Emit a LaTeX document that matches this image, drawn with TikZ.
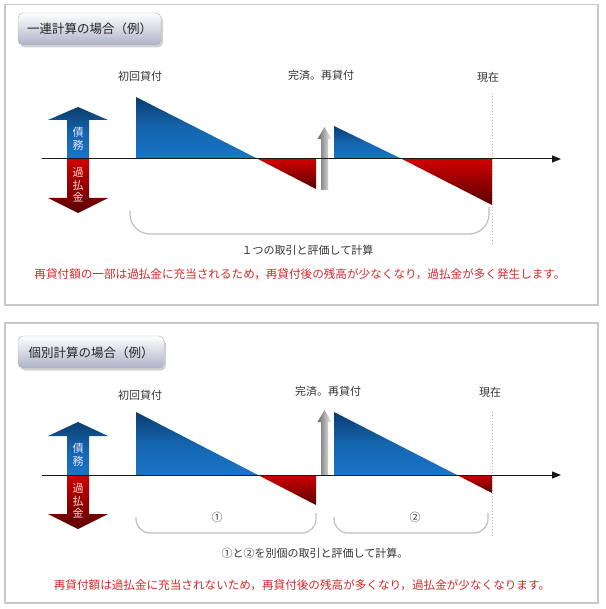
\documentclass[tikz,border=0pt]{standalone}
\usepackage{fontspec}
\setmainfont{Noto Sans CJK JP}
\usetikzlibrary{arrows.meta}
\definecolor{navy}{HTML}{0B3D70}
\definecolor{lblue}{HTML}{1A74C6}
\definecolor{mblue}{HTML}{1565AE}
\definecolor{bred}{HTML}{D00000}
\definecolor{dred}{HTML}{580000}
\definecolor{txtgray}{HTML}{333333}
\definecolor{notered}{HTML}{D42A2A}
\definecolor{framegray}{HTML}{C8C8C8}
\definecolor{titlebot}{HTML}{AEB2C6}
\tikzset{
  lbl/.style={font=\fontsize{11}{13}\selectfont, text=txtgray, inner sep=0pt},
  notetext/.style={font=\fontsize{11.6}{14}\selectfont, text=notered, inner sep=0pt},
  panelframe/.style={draw=framegray, line width=1.3pt},
  titlebox/.style={rounded corners=5pt, top color=white, bottom color=titlebot, draw=gray!60},
  titletext/.style={font=\fontsize{12.5}{14}\selectfont, text=black!85, inner sep=0pt},
  bluefill/.style={top color=navy, bottom color=lblue, middle color=mblue},
  redfill/.style={top color=bred, bottom color=dred},
  grayarrow/.style={left color=gray!80!black, middle color=gray!35, right color=gray!10},
  braceline/.style={draw=gray!50, line width=1.2pt},
  nowline/.style={draw=gray!55, line width=1pt, dotted},
  axisline/.style={draw=black!90, line width=1pt, -{Triangle[length=9pt,width=7pt]}},
  vtxt/.style={font=\fontsize{11}{12.5}\selectfont, align=center, inner sep=0pt}
}
\begin{document}
\begin{tikzpicture}[x=1pt,y=-1pt]
\useasboundingbox (0,0) rectangle (605,609);
\fill[white] (0,0) rectangle (605,609);

% ================= Panel 1 =================
\draw[panelframe] (5,4.5) rectangle (598,305);
\fill[gray!35, rounded corners=5pt] (20,16) rectangle (163,47.5);
\path[titlebox] (18,13) rectangle (161,45);
\node[titletext] (t1) at (89.5,29) {一連計算の場合（例）};

\node[lbl] (l1a) at (140,76) {初回貸付};
\node[lbl] (l1b) at (321,75) {完済。再貸付};
\node[lbl] (l1c) at (488,77) {現在};

% double arrow
\shade[bluefill] (67,159) -- (67,120) -- (48,120) -- (78,107) -- (108,120) -- (89,120) -- (89,159) -- cycle;
\shade[redfill] (67,159) -- (67,198) -- (48,198) -- (78,213) -- (108,198) -- (89,198) -- (89,159) -- cycle;
\node[vtxt, text=blue!10!white] (d1) at (78,139) {債\\務};
\node[vtxt, text=red!15!white] (k1) at (78,185) {過\\払\\金};

% triangles
\shade[bluefill] (136,97) -- (136,159) -- (258,159) -- cycle;
\shade[redfill] (258,159) -- (316,159) -- (316,189) -- cycle;
\shade[grayarrow] (321,190) -- (321,139) -- (317.5,139) -- (324.5,127) -- (331.5,139) -- (328,139) -- (328,190) -- cycle;
\shade[bluefill] (334,126) -- (334,159) -- (402,159) -- cycle;
\shade[redfill] (402,159) -- (492,159) -- (492,205) -- cycle;

\coordinate (n1top) at (492,93);
\coordinate (n1bot) at (492,245);
\draw[nowline] (n1top) -- (n1bot);

\coordinate (ax1s) at (42,159);
\coordinate (ax1e) at (561,159);
\draw[axisline] (ax1s) -- (ax1e);

\coordinate (b1l) at (130,211);
\coordinate (b1m) at (310,234);
\coordinate (b1r) at (489,207);
\draw[braceline, rounded corners=20pt] (b1l) |- (b1m) -| (b1r);

\node[lbl] (s1) at (307.5,250) {１つの取引と評価して計算};
\node[notetext] (r1) at (300,274) {再貸付額の一部は過払金に充当されるため，再貸付後の残高が少なくなり，過払金が多く発生します。};

% ================= Panel 2 =================
\draw[panelframe] (5,323) rectangle (598,603);
\fill[gray!35, rounded corners=5pt] (20,339) rectangle (166,370.5);
\path[titlebox] (18,336) rectangle (164,368);
\node[titletext] (t2) at (91,352.5) {個別計算の場合（例）};

\node[lbl] (l2a) at (140,395) {初回貸付};
\node[lbl] (l2b) at (328,391) {完済。再貸付};
\node[lbl] (l2c) at (490,392) {現在};

\shade[bluefill] (67,475) -- (67,436) -- (48,436) -- (78,422) -- (108,436) -- (89,436) -- (89,475) -- cycle;
\shade[redfill] (67,475) -- (67,514) -- (48,514) -- (78,529) -- (108,514) -- (89,514) -- (89,475) -- cycle;
\node[vtxt, text=blue!10!white] (d2) at (78,455) {債\\務};
\node[vtxt, text=red!15!white] (k2) at (78,501) {過\\払\\金};

\shade[bluefill] (136,412) -- (136,475) -- (258,475) -- cycle;
\shade[redfill] (258,475) -- (316,475) -- (316,505) -- cycle;
\shade[grayarrow] (321,475) -- (321,422) -- (317.5,422) -- (324.5,410) -- (331.5,422) -- (328,422) -- (328,475) -- cycle;
\shade[bluefill] (334,412) -- (334,475) -- (457,475) -- cycle;
\shade[redfill] (457,475) -- (492,475) -- (492,493) -- cycle;

\coordinate (n2top) at (492,412);
\coordinate (n2bot) at (492,536);
\draw[nowline] (n2top) -- (n2bot);

\coordinate (ax2s) at (42,475);
\coordinate (ax2e) at (561,475);
\draw[axisline] (ax2s) -- (ax2e);

\coordinate (b2l) at (136,517);
\coordinate (b2m) at (226,533);
\coordinate (b2r) at (316,513);
\draw[braceline, rounded corners=14pt] (b2l) |- (b2m) -| (b2r);
\coordinate (b3l) at (334,517);
\coordinate (b3m) at (411,533);
\coordinate (b3r) at (488,513);
\draw[braceline, rounded corners=14pt] (b3l) |- (b3m) -| (b3r);
\node[lbl] (c1) at (217,517) {①};
\node[lbl] (c2) at (415,517) {②};

\node[lbl] (s2) at (315,553) {①と②を別個の取引と評価して計算。};
\node[notetext] (r2) at (302,585) {再貸付額は過払金に充当されないため，再貸付後の残高が多くなり，過払金が少なくなります。};
\end{tikzpicture}
\end{document}
